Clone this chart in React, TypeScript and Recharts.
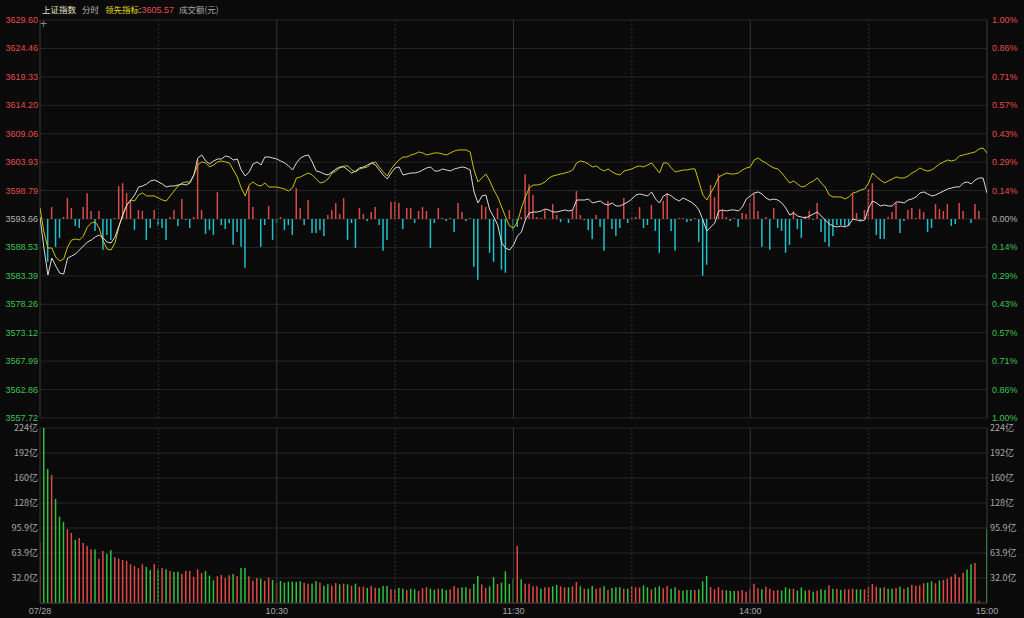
import React from 'react';
import {
  Bar,
  CartesianGrid,
  Cell,
  ComposedChart,
  Line,
  ReferenceLine,
  XAxis,
  YAxis,
} from 'recharts';

// previous close of the index, the 0.00% line
const prevClose = 3593.66;

// 上证指数, one value per minute (09:30 .. 11:30, 13:01 .. 15:00)
const indexPrices = [
  3594.02, 3588.42, 3583.54, 3586.61, 3585.17, 3583.9, 3583.72, 3586.61, 3586.97, 3587.34,
  3588.06, 3588.78, 3589.5, 3589.87, 3590.41, 3590.77, 3590.23, 3589.5, 3589.32, 3590.41,
  3592.4, 3594.38, 3596.19, 3597.09, 3598.0, 3599.44, 3599.62, 3599.98, 3600.53, 3600.71,
  3600.35, 3599.98, 3599.44, 3599.62, 3599.62, 3599.8, 3599.98, 3599.8, 3600.17, 3601.61,
  3604.68, 3605.22, 3604.14, 3603.6, 3604.14, 3604.5, 3604.5, 3605.04, 3604.86, 3604.32,
  3604.5, 3602.51, 3601.43, 3602.15, 3603.6, 3603.96, 3603.42, 3604.86, 3604.86, 3604.68,
  3604.5, 3604.14, 3603.78, 3603.24, 3602.51, 3603.78, 3604.68, 3605.04, 3605.22, 3603.96,
  3602.33, 3602.15, 3601.79, 3601.61, 3602.15, 3602.7, 3603.06, 3603.06, 3602.51, 3601.97,
  3602.33, 3602.88, 3603.06, 3603.42, 3603.78, 3603.42, 3602.51, 3601.61, 3600.89, 3601.97,
  3602.88, 3603.06, 3601.61, 3601.79, 3601.97, 3601.97, 3602.15, 3602.51, 3602.88, 3603.06,
  3602.33, 3602.33, 3602.7, 3602.51, 3602.33, 3602.7, 3602.88, 3603.06, 3602.88, 3602.51,
  3598.54, 3596.55, 3597.82, 3598.0, 3595.29, 3594.02, 3592.58, 3589.32, 3588.42, 3588.06,
  3588.96, 3590.59, 3591.31, 3593.48, 3594.74, 3594.92, 3594.92, 3595.11, 3595.47, 3595.29,
  3594.92, 3594.92, 3595.11, 3595.29, 3595.11, 3595.29, 3597.09, 3597.09, 3597.09, 3597.27,
  3596.55, 3596.73, 3596.91, 3596.37, 3596.19, 3596.55, 3596.01, 3596.01, 3596.37, 3596.73,
  3597.27, 3598.0, 3598.18, 3598.0, 3597.82, 3598.54, 3597.27, 3596.55, 3597.82, 3598.18,
  3597.82, 3597.27, 3596.91, 3597.45, 3597.09, 3596.73, 3596.19, 3595.29, 3593.48, 3591.49,
  3592.21, 3592.94, 3595.11, 3595.29, 3595.11, 3595.29, 3595.29, 3595.11, 3595.83, 3597.27,
  3597.82, 3598.36, 3598.54, 3598.18, 3597.45, 3597.09, 3597.27, 3597.09, 3596.55, 3595.65,
  3594.38, 3594.74, 3594.2, 3594.02, 3593.84, 3594.2, 3594.56, 3594.92, 3594.2, 3593.48,
  3592.76, 3592.4, 3592.21, 3592.4, 3592.21, 3592.58, 3593.66, 3593.48, 3593.3, 3593.48,
  3595.65, 3596.91, 3596.55, 3596.01, 3596.19, 3596.01, 3596.01, 3596.73, 3596.73, 3596.55,
  3597.09, 3597.27, 3597.64, 3598.36, 3598.54, 3598.18, 3597.82, 3598.0, 3598.36, 3598.72,
  3599.08, 3599.26, 3599.44, 3599.44, 3600.17, 3600.35, 3599.98, 3600.71, 3601.07, 3601.07,
  3598.36,
];

// 领先指标
const leadPrices = [
  3595.65, 3591.31, 3588.42, 3588.42, 3586.79, 3586.07, 3586.43, 3588.6, 3589.87, 3590.05,
  3589.87, 3590.59, 3592.21, 3592.94, 3593.12, 3592.03, 3589.68, 3588.24, 3588.06, 3589.32,
  3592.21, 3594.56, 3596.19, 3597.09, 3596.91, 3598.0, 3598.36, 3597.82, 3597.82, 3597.82,
  3597.45, 3597.09, 3596.91, 3597.82, 3598.72, 3599.62, 3600.17, 3600.35, 3600.35, 3601.61,
  3603.42, 3603.96, 3603.78, 3603.06, 3603.42, 3603.96, 3604.14, 3603.96, 3603.78, 3602.51,
  3601.25, 3599.26, 3597.82, 3599.8, 3600.35, 3599.8, 3599.62, 3600.17, 3599.44, 3599.44,
  3599.44, 3599.26, 3599.08, 3598.72, 3599.26, 3601.07, 3601.25, 3601.61, 3601.97, 3601.61,
  3600.89, 3600.17, 3600.35, 3600.89, 3601.97, 3602.33, 3602.88, 3603.24, 3603.24, 3602.51,
  3602.15, 3602.7, 3602.88, 3603.06, 3603.78, 3603.96, 3603.06, 3602.15, 3601.43, 3602.7,
  3603.6, 3604.32, 3604.86, 3604.86, 3605.22, 3605.41, 3605.77, 3605.59, 3605.22, 3605.41,
  3605.59, 3605.59, 3605.41, 3605.22, 3605.59, 3605.95, 3606.13, 3606.13, 3606.13, 3605.77,
  3602.51, 3600.35, 3601.07, 3601.79, 3600.53, 3598.9, 3597.64, 3595.83, 3594.02, 3592.4,
  3592.03, 3593.12, 3595.65, 3597.64, 3599.26, 3599.8, 3599.8, 3599.98, 3600.35, 3601.07,
  3601.43, 3601.61, 3601.79, 3601.97, 3602.15, 3602.51, 3603.78, 3604.14, 3603.96, 3603.6,
  3603.06, 3603.24, 3602.7, 3602.33, 3602.7, 3602.15, 3601.79, 3601.61, 3602.33, 3602.51,
  3602.7, 3603.06, 3603.24, 3603.06, 3603.42, 3603.78, 3602.88, 3601.97, 3603.78, 3603.78,
  3602.88, 3602.15, 3602.33, 3602.51, 3602.51, 3602.7, 3602.7, 3600.35, 3598.0, 3597.09,
  3598.36, 3599.62, 3601.25, 3601.61, 3601.97, 3601.79, 3601.79, 3601.97, 3602.51, 3602.88,
  3603.06, 3604.32, 3604.68, 3604.14, 3603.78, 3603.24, 3602.88, 3602.7, 3601.97, 3601.07,
  3600.17, 3600.53, 3599.98, 3599.44, 3599.62, 3600.17, 3600.53, 3601.07, 3600.17, 3599.44,
  3598.0, 3597.64, 3597.64, 3597.64, 3597.27, 3597.64, 3598.36, 3598.54, 3598.9, 3599.08,
  3600.17, 3601.97, 3601.25, 3600.71, 3600.17, 3600.53, 3600.89, 3601.25, 3601.07, 3601.07,
  3601.43, 3601.97, 3602.33, 3602.88, 3602.51, 3602.33, 3602.51, 3603.06, 3603.6, 3603.96,
  3604.32, 3604.14, 3604.32, 3605.04, 3605.22, 3605.41, 3605.59, 3605.77, 3606.31, 3606.49,
  3605.57,
];

// buy / sell strength bars around the 0.00% line
const strength = [
  0, 0, -43, 12, -28, -19, 2, 21, 11, -7,
  -9, 12, 26, 8, -12, 8, -31, -16, -21, 1,
  33, 36, 26, 19, -11, 9, 8, -21, -9, 9,
  -7, -9, -21, 2, 9, -7, 20, -1, -9, 2,
  59, 9, -15, -11, -16, 27, -6, -10, -4, -26,
  -13, -28, -49, 32, 12, 0, -28, -6, 13, -21,
  -4, 2, -11, -6, -16, 31, 11, -6, 19, -14,
  -14, -11, -17, 4, 9, 16, 5, 21, -21, -4,
  -29, 11, 5, -2, 7, 12, -6, -32, -21, 17,
  17, 16, -10, 11, 11, -4, 8, 12, 8, -29,
  -4, 11, 1, -2, 1, -13, 16, 7, -2, 1,
  -48, -61, 14, 12, -34, -43, 11, -51, -54, 9,
  -12, -8, 2, 45, 35, 24, 2, 1, 9, 0,
  15, 4, -3, 0, -4, 9, 28, 4, -1, -11,
  -20, 4, -8, -32, 18, -10, -17, -9, 21, -4,
  1, 2, 12, -9, -6, 14, -12, -34, 18, 26,
  -12, -32, 1, 1, -3, -2, 1, -23, -57, -46,
  34, 22, 45, 9, 2, -2, 1, -8, 6, 5,
  16, 26, 8, -28, 2, -31, 11, -9, -12, -34,
  -26, 8, -10, -19, 3, 8, -1, 16, -13, -23,
  -28, -17, -6, -6, -7, -7, 26, 6, -2, 9,
  30, 36, -16, -20, -20, 2, 7, 16, -14, -2,
  9, 11, 1, 10, 7, -13, -9, 15, 10, 8,
  15, -7, -5, 16, 8, 0, -4, 15, 8, 0,
  0,
];

// 成交额, 亿元 per minute
const volumes = [
  77.7, 224, 171.5, 163.8, 133, 110.5, 103.7, 94.3, 89.6, 80.6,
  83.2, 76.8, 73, 68.7, 68.3, 56.7, 66.6, 63.1, 67.4, 58.5,
  56.7, 55, 53.8, 49.5, 47.4, 44.4, 49.5, 46.1, 42.2, 49.9,
  43.9, 44.8, 43.1, 41, 39.7, 40.1, 37.5, 41, 41, 33.3,
  43.1, 38.4, 41, 35, 29, 34.1, 35.8, 32, 35.4, 37.1,
  34.1, 44.8, 44.8, 34.1, 28.6, 32, 31.1, 28.6, 32.4, 29.4,
  26, 28.2, 26, 27.3, 27.3, 26.9, 27.7, 26, 24.7, 24.7,
  27.7, 26, 22.2, 23.9, 22.2, 25.6, 23.9, 24.7, 23.9, 22.2,
  24.7, 20.9, 20.9, 19.2, 21.8, 19.6, 19.2, 21.8, 21.8, 17.5,
  17.9, 19.2, 18.3, 16.6, 18.3, 17.5, 15.4, 18.8, 20, 18.3,
  17, 18.3, 18.3, 16.6, 17.5, 21.8, 19.2, 20, 20, 18.3,
  24.7, 34.6, 23.9, 19.2, 21.3, 32.9, 24.3, 26, 40.5, 24.7,
  31.1, 73, 30.3, 24.7, 24.7, 21.3, 21.3, 18.3, 20, 20,
  21.3, 23, 21.3, 20, 20, 21.3, 26.9, 21.3, 18.3, 18.3,
  21.8, 18.3, 19.6, 21.3, 16.6, 19.2, 20, 20, 18.3, 18.3,
  20.9, 20, 20, 22.6, 20, 17.5, 20, 21.3, 18.8, 21.8,
  18.3, 20, 16.6, 15.8, 16.6, 16.6, 16.6, 17.5, 27.7, 34.6,
  20.5, 17.5, 20.5, 16.6, 16.2, 15.4, 15.4, 15.4, 16.6, 14.5,
  17.5, 24.7, 18.8, 17.5, 20.9, 18.3, 15.8, 16.6, 15.8, 20,
  18.3, 18.3, 15.8, 20, 15.8, 16.6, 14.5, 15.8, 17.5, 16.6,
  22.6, 18.3, 18.3, 16.6, 17.5, 17.5, 18.3, 17.5, 17.5, 17.5,
  20, 24.3, 20.9, 19.2, 20, 18.3, 18.3, 19.2, 20.9, 18.3,
  20, 23.5, 21.8, 22.6, 25.2, 26, 27.7, 25.2, 28.6, 29.4,
  31.1, 33.7, 37.1, 32.9, 38.8, 43, 49.5, 51.2, 3, 0,
  94.7,
];

// r = up minute (red), g = down minute (green)
const volumeSides = (
  'rggrgggrrg' + 'rrrrgrrggr' + 'rrrrrrrggr' + 'grgrggrrrr' + 'rrgggrrrrg' +
  'rggrrrgrrg' + 'rggggggrrg' + 'grggrrgrgr' + 'grrgrrgggr' + 'rggrggrrrg' +
  'grggrrrggr' + 'ggrrggrggg' + 'grgrrrrgrr' + 'ggrrgrrgrg' + 'grrgrgggrg' +
  'rrrggrggrr' + 'ggrgggrggg' + 'rrrrgggrrr' + 'rrrgrrrrgg' + 'grgggrgrgg' +
  'rgrgrrrggr' + 'rrrgrggrgr' + 'grrrrggrgr' + 'rrrrrggrrr' + 'g'
).split('');

const priceTicks = [
  3557.72, 3562.86, 3567.99, 3573.12, 3578.26, 3583.39, 3588.53, 3593.66,
  3598.79, 3603.93, 3609.06, 3614.2, 3619.33, 3624.46, 3629.6,
];
const volumeTicks = [31.98, 63.94, 95.92, 127.9, 159.87, 191.85, 223.83];
const volumeTickLabels = ['32.0亿', '63.9亿', '95.9亿', '128亿', '160亿', '192亿', '224亿'];
const timeTicks = [0, 60, 120, 180, 240];
const timeLabels = ['07/28', '10:30', '11:30', '14:00', '15:00'];
const solidMarks = [60, 120, 180];
const dashedMarks = [30, 90, 150, 210];

const data = indexPrices.map((price, t) => ({
  t,
  price,
  lead: leadPrices[t],
  power: strength[t],
  vol: volumes[t],
}));

const BG = '#0a0a0a';
const GRID = '#272727';
const RED = '#e44c4c';
const GREEN = '#3cc24f';
const GRAY = '#b4b4b4';
const numFont = "Arial, 'Liberation Sans', sans-serif";
const cjkFont = "'Noto Sans CJK SC', 'Noto Sans', sans-serif";

const priceColor = (v: number) =>
  Math.abs(v - prevClose) < 0.005 ? GRAY : v > prevClose ? RED : GREEN;

const PriceTick = ({ x, y, payload }: any) => (
  <text x={x} y={y} dy={3} textAnchor="end" fontSize={9} fontFamily={numFont} fill={priceColor(payload.value)}>
    {payload.value.toFixed(2)}
  </text>
);

const PercentTick = ({ x, y, payload }: any) => (
  <text x={x} y={y} dy={3} textAnchor="start" fontSize={9} fontFamily={numFont} fill={priceColor(payload.value)}>
    {Math.abs(((payload.value - prevClose) / prevClose) * 100).toFixed(2) + '%'}
  </text>
);

const VolumeTick = ({ x, y, payload, anchor }: any) => (
  <text x={x} y={y} dy={3} textAnchor={anchor} fontSize={9} fontFamily={cjkFont} fill="#a8a8a8">
    {volumeTickLabels[volumeTicks.indexOf(payload.value)]}
  </text>
);

const TimeTick = ({ x, y, payload }: any) => (
  <text x={x} y={y} dy={11} textAnchor="middle" fontSize={9} fontFamily={numFont} fill="#a8a8a8">
    {timeLabels[timeTicks.indexOf(payload.value)]}
  </text>
);

const verticalMarks = (yAxisId: string) => [
  ...solidMarks.map((m) => (
    <ReferenceLine key={'s' + m} yAxisId={yAxisId} x={m} stroke="#343434" />
  )),
  ...dashedMarks.map((m) => (
    <ReferenceLine key={'d' + m} yAxisId={yAxisId} x={m} stroke="#303030" strokeDasharray="2 2" />
  )),
  <ReferenceLine key="left" yAxisId={yAxisId} x={0} stroke="#3a3a3a" />,
  <ReferenceLine key="right" yAxisId={yAxisId} x={240} stroke="#3a3a3a" />,
];

const Header = () => (
  <div style={{ position: 'absolute', left: 0, top: 0, width: 1024, height: 18, fontFamily: cjkFont, fontSize: 8.5 }}>
    <span style={{ position: 'absolute', left: 42, top: 3, color: '#e6e2c4' }}>上证指数</span>
    <span style={{ position: 'absolute', left: 82, top: 3, color: '#b8b8b8' }}>分时</span>
    <span style={{ position: 'absolute', left: 105, top: 3, color: '#e2dc1e' }}>
      领先指标:<span style={{ color: RED, fontFamily: numFont, fontSize: 9 }}>3605.57</span>
    </span>
    <span style={{ position: 'absolute', left: 179, top: 3, color: '#a8a8a8' }}>成交额(元)</span>
    <span style={{ position: 'absolute', left: 40, top: 17, color: '#8a8a8a', fontFamily: numFont, fontSize: 12 }}>+</span>
  </div>
);

const App = () => {
  return (
    <div style={{ position: 'absolute', left: 0, top: 0, width: 1024, height: 618, background: BG, overflow: 'hidden' }}>
      <div style={{ position: 'absolute', left: 0, top: 0 }}>
        <ComposedChart width={1024} height={618} data={data} margin={{ top: 20, right: 0, bottom: 200, left: 0 }}>
          <CartesianGrid yAxisId="p" vertical={false} stroke={GRID} />
          <XAxis type="number" dataKey="t" domain={[0, 240]} hide allowDataOverflow />
          <YAxis
            yAxisId="p"
            width={40}
            domain={[priceTicks[0], priceTicks[priceTicks.length - 1]]}
            ticks={priceTicks}
            interval={0}
            allowDataOverflow
            axisLine={false}
            tickLine={false}
            tickSize={0}
            tickMargin={2}
            tick={<PriceTick />}
          />
          <YAxis
            yAxisId="pct"
            orientation="right"
            width={37}
            domain={[priceTicks[0], priceTicks[priceTicks.length - 1]]}
            ticks={priceTicks}
            interval={0}
            allowDataOverflow
            axisLine={false}
            tickLine={false}
            tickSize={0}
            tickMargin={5}
            tick={<PercentTick />}
          />
          <YAxis yAxisId="s" hide domain={[-200, 200]} />
          {verticalMarks('p')}
          <Bar yAxisId="s" dataKey="power" barSize={1.5} isAnimationActive={false}>
            {strength.map((v, i) => (
              <Cell key={i} fill={v >= 0 ? '#d84a4a' : '#1fbfc8'} />
            ))}
          </Bar>
          <Line yAxisId="p" type="linear" dataKey="lead" stroke="#c9c300" strokeWidth={1} dot={false} isAnimationActive={false} />
          <Line yAxisId="p" type="linear" dataKey="price" stroke="#dadada" strokeWidth={1} dot={false} isAnimationActive={false} />
        </ComposedChart>
      </div>
      <div style={{ position: 'absolute', left: 0, top: 0 }}>
        <ComposedChart width={1024} height={618} data={data} margin={{ top: 428, right: 0, bottom: 0, left: 0 }}>
          <CartesianGrid yAxisId="v" vertical={false} stroke={GRID} />
          <XAxis
            type="number"
            dataKey="t"
            domain={[0, 240]}
            ticks={timeTicks}
            interval={0}
            height={15}
            allowDataOverflow
            axisLine={{ stroke: '#3a3a3a' }}
            tickLine={false}
            tickSize={0}
            tickMargin={0}
            tick={<TimeTick />}
          />
          <YAxis
            yAxisId="v"
            width={40}
            domain={[0, volumeTicks[volumeTicks.length - 1]]}
            ticks={volumeTicks}
            interval={0}
            allowDataOverflow
            axisLine={false}
            tickLine={false}
            tickSize={0}
            tickMargin={2}
            tick={<VolumeTick anchor="end" />}
          />
          <YAxis
            yAxisId="v2"
            orientation="right"
            width={37}
            domain={[0, volumeTicks[volumeTicks.length - 1]]}
            ticks={volumeTicks}
            interval={0}
            allowDataOverflow
            axisLine={false}
            tickLine={false}
            tickSize={0}
            tickMargin={3}
            tick={<VolumeTick anchor="start" />}
          />
          {verticalMarks('v')}
          <Bar yAxisId="v" dataKey="vol" barSize={1.5} isAnimationActive={false}>
            {volumeSides.map((s, i) => (
              <Cell key={i} fill={s === 'r' ? '#e04848' : '#2fc23f'} />
            ))}
          </Bar>
        </ComposedChart>
      </div>
      <Header />
    </div>
  );
};

export default App;
